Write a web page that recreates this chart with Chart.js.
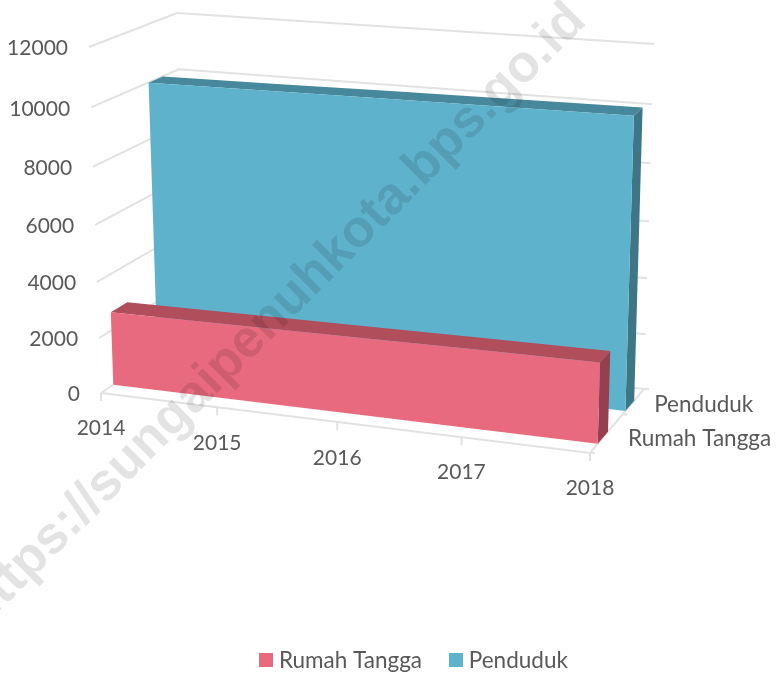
<!DOCTYPE html>
<html><head><meta charset="utf-8">
<style>html,body{margin:0;padding:0;background:#fff}canvas{display:block}</style>
<script src="https://cdn.jsdelivr.net/npm/chart.js@4"></script>
</head><body><canvas id="c" width="776" height="673"></canvas>
<script>
const years = [2014, 2015, 2016, 2017, 2018];
const rumahTangga = [2650, 2700, 2750, 2800, 2840];
const penduduk = [9990, 10040, 10100, 10150, 10200];
const valueTicks = [0, 2000, 4000, 6000, 8000, 10000, 12000];
const seriesNames = ['Rumah Tangga', 'Penduduk'];
const watermark = 'https://sungaipenuhkota.bps.go.id';

const FONT = 'Lato, "Open Sans", sans-serif';
const TEXT = '#595959', GRID = '#e2e2e2';
const LEFT_PAD = 56;
const vMax = 12000;
// box corners of the 3D view: [x, value, depth]
const C = {
  '000': [101, 393], '010': [89, 47], '001': [187, 335], '011': [177, 13],
  '100': [590, 453], '110': [600, 92], '101': [644, 389], '111': [654, 44]
};
const warp = (t, r) => t / (t + r * (1 - t));
function proj(i, v, z) {
  const a = warp(i / (years.length - 1), 1.07), b = warp(v / vMax, 1.058), c = warp(z, 0.667);
  const pt = [0, 1].map(k => {
    const l = (p, q, w) => p[k] + (q[k] - p[k]) * w;
    const x0 = l(C['000'], C['100'], a) * (1 - c) + l(C['001'], C['101'], a) * c;
    const x1 = l(C['010'], C['110'], a) * (1 - c) + l(C['011'], C['111'], a) * c;
    return x0 + (x1 - x0) * b;
  });
  return { x: pt[0], y: pt[1] };
}
const GAP = { x: null, y: null };
const rows = [[0.10, 0.25], [0.56, 0.75]];
const faceStyle = [
  { front: '#e76a7e', top: '#b04e5c', side: '#96404f' },
  { front: '#5eb2cc', top: '#47889d', side: '#3f7685' }
];
const seriesValues = [rumahTangga, penduduk];
const poly = (label, data, color, order) => ({
  label, data, order, showLine: true, fill: 'shape', backgroundColor: color, borderColor: color,
  borderWidth: 0, pointRadius: 0, tension: 0, clip: false
});
const frontFaces = seriesValues.map((vals, s) => {
  const z = rows[s][0];
  const top = vals.map((v, i) => proj(i, v, z));
  const bot = vals.map((v, i) => proj(i, 0, z)).reverse();
  return poly(seriesNames[s], top.concat(bot), faceStyle[s].front, s * 2);
});
const topFaces = seriesValues.map((vals, s) => {
  const [z0, z1] = rows[s];
  const a = vals.map((v, i) => proj(i, v, z0));
  const b = vals.map((v, i) => proj(i, v, z1)).reverse();
  return poly(seriesNames[s] + ' atas', a.concat(b), faceStyle[s].top, s * 2 + 1);
});
const sideFaces = seriesValues.map((vals, s) => {
  const [z0, z1] = rows[s];
  const n = vals.length - 1, v = vals[n];
  return poly(seriesNames[s] + ' sisi', [proj(n, v, z0), proj(n, v, z1), proj(n, 0, z1), proj(n, 0, z0)], faceStyle[s].side, s * 2 + 1);
});
const last = years.length - 1;
const gridData = [];
valueTicks.forEach(v => {
  gridData.push(proj(0, v, 0), proj(0, v, 1), proj(last, v, 1), GAP);
});
gridData.push(proj(0, 0, 0), proj(last, 0, 0), proj(last, 0, 1), GAP);
years.forEach((y, i) => {
  const p = proj(i, 0, 0);
  gridData.push(p, { x: p.x, y: p.y + 8 }, GAP);
});
[0, 0.5, 1].forEach(z => {
  const p = proj(last, 0, z);
  gridData.push(p, { x: p.x + 5, y: p.y }, GAP);
});
const gridSet = {
  label: 'grid', data: gridData, order: 9, showLine: true, fill: false, borderColor: GRID,
  borderWidth: 2, pointRadius: 0, tension: 0, clip: false, spanGaps: false
};
function swatch(color) {
  const c = document.createElement('canvas');
  c.width = 14; c.height = 14;
  const g = c.getContext('2d');
  g.fillStyle = color;
  g.fillRect(0, 0, 14, 14);
  return c;
}
const textPlugin = {
  id: 'axisText',
  afterDatasetsDraw(chart) {
    const ctx = chart.ctx;
    ctx.save();
    ctx.fillStyle = TEXT;
    ctx.font = '21px ' + FONT;
    ctx.textBaseline = 'middle';
    ctx.textAlign = 'right';
    valueTicks.forEach(v => { const p = proj(0, v, 0); ctx.fillText(String(v), p.x - 21, p.y + 1.5); });
    ctx.textAlign = 'center';
    const yOff = [35, 36, 36, 35, 35];
    years.forEach((y, i) => { const p = proj(i, 0, 0); ctx.fillText(String(y), p.x, p.y + yOff[i]); });
    ctx.textAlign = 'left';
    ctx.font = '22.5px ' + FONT;
    seriesNames.forEach((n, s) => { const p = proj(last, 0, s ? 0.75 : 0.25); ctx.fillText(n, p.x + 20, p.y + (s ? 4 : 7)); });
    ctx.restore();
    ctx.save();
    ctx.translate(274.5, 315.5);
    ctx.rotate(-Math.PI / 4);
    ctx.font = 'bold 52.5px "Liberation Sans", Arial, sans-serif';
    ctx.fillStyle = 'rgba(0,0,0,0.11)';
    ctx.textAlign = 'center';
    ctx.textBaseline = 'middle';
    ctx.fillText(watermark, 0, 0);
    ctx.restore();
  }
};
new Chart(document.getElementById('c'), {
  type: 'scatter',
  data: { datasets: [...frontFaces, ...topFaces, ...sideFaces, gridSet] },
  plugins: [textPlugin],
  options: {
    responsive: false, animation: false, events: [],
    layout: { padding: { left: LEFT_PAD, bottom: -8.5 } },
    scales: {
      x: { type: 'linear', display: false, bounds: 'data', afterDataLimits: s => { s.min = LEFT_PAD; s.max = LEFT_PAD + s.width; } },
      y: { type: 'linear', display: false, bounds: 'data', reverse: true, afterDataLimits: s => { s.min = 0; s.max = s.height; } }
    },
    plugins: {
      tooltip: { enabled: false },
      legend: {
        position: 'bottom',
        labels: {
          usePointStyle: true, pointStyleWidth: 3.5, boxHeight: 14, padding: 32, color: TEXT,
          font: { family: FONT, size: 22.5 },
          filter: item => item.datasetIndex < 2,
          generateLabels(chart) {
            return Chart.defaults.plugins.legend.labels.generateLabels(chart).map(it => {
              it.pointStyle = swatch(it.fillStyle);
              return it;
            });
          }
        }
      }
    }
  }
});
</script></body></html>
